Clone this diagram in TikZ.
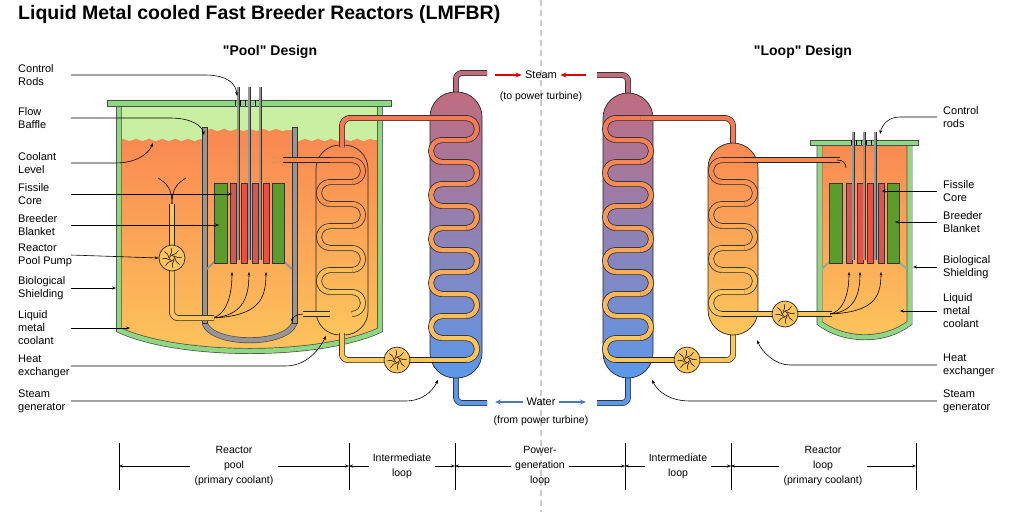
\documentclass[tikz,border=0pt]{standalone}
\usepackage{fontspec}
\setmainfont{Liberation Sans}[Ligatures=TeXOff]
\usetikzlibrary{arrows.meta,decorations.pathmorphing}

\definecolor{hotorange}{RGB}{249,138,82}
\definecolor{warmyellow}{RGB}{253,198,92}
\definecolor{airgreen}{RGB}{200,240,160}
\definecolor{wallgreen}{RGB}{143,216,131}
\definecolor{blanket}{RGB}{92,156,42}
\definecolor{fuelred}{RGB}{226,82,72}
\definecolor{bafflegray}{RGB}{150,150,150}
\definecolor{steamtop}{RGB}{192,108,128}
\definecolor{waterblue}{RGB}{92,152,234}
\definecolor{pipered}{RGB}{243,122,84}

\tikzset{
  pipe/.style={line width=0.7pt, draw=black!85, double distance=4.5pt, double=#1},
  wall/.style={line width=0.7pt, draw=black!70, double distance=4.5pt, double=#1},
  lead/.style={-{Stealth[length=4pt,width=3pt]}, line width=0.6pt},
  flow/.style={-{Stealth[length=3.5pt,width=2.5pt]}, line width=0.6pt},
  lab/.style={anchor=west, align=left, font=\fontsize{11}{13}\selectfont, inner sep=0pt},
  pump/.style={circle, draw=black!85, fill=warmyellow, minimum size=26pt, inner sep=0pt, line width=0.7pt},
  rod/.style={draw=black!80, fill=fuelred, line width=0.5pt},
  blank/.style={draw=black!80, fill=blanket, line width=0.5pt},
  crod/.style={line width=0.7pt, draw=black!80, double distance=1.6pt, double=bafflegray},
}

% serpentine coil: xL, xR, top y, turns, first side (0 right, 1 left), top colour, bottom colour
\newcommand{\coil}[7]{%
  \foreach \i in {1,...,#4}{%
    \pgfmathsetmacro{\ya}{#3+22*(\i-1)}%
    \pgfmathtruncatemacro{\p}{100*(\i-1)/(#4-1)}%
    \pgfmathtruncatemacro{\s}{mod(\i+#5,2)}%
    \ifnum\s=1
      \draw[pipe={#7!\p!#6}] (#1,\ya) -- (#2,\ya) arc[start angle=-90,end angle=90,radius=11];
    \else
      \draw[pipe={#7!\p!#6}] (#2,\ya) -- (#1,\ya) arc[start angle=270,end angle=90,radius=11];
    \fi}}

% pump with curved blades
\newcommand{\pumpwheel}[2]{%
  \node[pump] (#1) at (#2) {};
  \foreach \a in {0,45,...,315}
    \draw[line width=0.5pt] ([shift={(\a:3)}]#1.center) to[bend right=30] ([shift={(\a+40:10)}]#1.center);
  \draw[line width=0.5pt] (#1.center) circle (2.5);}

\begin{document}
\begin{tikzpicture}[x=1pt,y=-1pt]
\useasboundingbox (0,0) rectangle (1011,512);

\node[anchor=west, font=\fontsize{19.5}{22}\bfseries\selectfont, inner sep=0pt] (title) at (18,14) {Liquid Metal cooled Fast Breeder Reactors (LMFBR)};
\draw[dashed, line width=1.5pt, black!20, dash pattern=on 6pt off 4pt] (541,0) -- (541,512);
\node[font=\fontsize{14}{16}\bfseries\selectfont] (pooltitle) at (270,52) {"Pool" Design};
\node[font=\fontsize{14}{16}\bfseries\selectfont] (looptitle) at (803,52) {"Loop" Design};

% ---------- pool vessel
\fill[airgreen] (119,106) -- (119,330) .. controls (180,358) and (320,358) .. (380,330) -- (380,106) -- cycle;
\shade[top color=hotorange, bottom color=warmyellow]
  (119,140) decorate[decoration={snake,amplitude=1.2pt,segment length=13pt}] {-- (380,140)}
  -- (380,330) .. controls (320,358) and (180,358) .. (119,330) -- cycle;
\fill[hotorange] (207,130) decorate[decoration={snake,amplitude=1.2pt,segment length=13pt}] {-- (292,130)} -- (292,142) -- (207,142) -- cycle;
\draw[wall=wallgreen] (119,106) -- (119,330) .. controls (180,358) and (320,358) .. (380,330) -- (380,106);
\draw[draw=black!70, fill=wallgreen, line width=0.6pt] (107,100) rectangle (391,106);
\foreach \x in {235,240,...,263} \draw[line width=0.4pt] (\x,100) -- (\x,106);

% baffle
\draw[wall=bafflegray] (204.5,323) .. controls (212,346) and (287,346) .. (294.5,323);
\draw[draw=black!80, fill=bafflegray, line width=0.5pt] (202,127) rectangle (207,323);
\draw[draw=black!80, fill=bafflegray, line width=0.5pt] (292,127) rectangle (297,323);
\draw[line width=2pt, bafflegray] (207,269) -- (214,262) (292,269) -- (284,262);

% core
\draw[blank] (214,183) rectangle (227,263);
\draw[blank] (272,183) rectangle (284,263);
\foreach \x in {230,241,252,263} \draw[rod] (\x,183) rectangle (\x+6,263);
\foreach \x in {238,249,260} \draw[crod] (\x,87) -- (\x,260);
\foreach \x in {232,249,266} \draw[flow] (212,318) .. controls (\x-8,316) and (\x,300) .. (\x,272);

% primary pool circuit
\draw[line width=0.6pt] (158,178) .. controls (168,184) and (172,190) .. (172,204);
\draw[line width=0.6pt] (186,178) .. controls (176,184) and (172,190) .. (172,204);
\draw[pipe=warmyellow] (172,204) -- (172,246);
\draw[pipe=warmyellow, rounded corners=6] (172,270) |- (214,318);
\pumpwheel{poolpump}{172,258}

% pool heat exchanger
\shade[top color=hotorange, bottom color=warmyellow, draw=black!85, line width=0.7pt, rounded corners=24] (316,145) rectangle (368,335);
\draw[pipe=hotorange] (283,160) -- (330,160);
\coil{330}{352}{160}{7}{0}{hotorange}{warmyellow}
\draw[pipe=warmyellow] (330,314) -- (303,314);
\draw[flow] (303,314) .. controls (296,314) and (292,318) .. (292,322);

% pool steam generator
\draw[pipe=steamtop, rounded corners=6] (456,95) |- (487,73);
\draw[pipe=waterblue, rounded corners=6] (456,376) |- (487,403);
\shade[top color=steamtop, bottom color=waterblue, draw=black!85, line width=0.7pt, rounded corners=25] (430,92) rectangle (482,378);
\draw[pipe=pipered, rounded corners=8] (342,147) |- (442,118);
\coil{442}{466}{118}{11}{0}{pipered}{warmyellow}
\draw[pipe=warmyellow] (466,360) -- (410,360);
\draw[pipe=warmyellow, rounded corners=6] (384,360) -| (342,333);
\pumpwheel{poolhxpump}{397,360}

% ---------- loop side steam generator
\draw[pipe=steamtop, rounded corners=6] (628,95) |- (597,75);
\draw[pipe=waterblue, rounded corners=6] (628,376) |- (597,403);
\shade[top color=steamtop, bottom color=waterblue, draw=black!85, line width=0.7pt, rounded corners=25] (603,93) rectangle (653,378);
\draw[pipe=pipered, rounded corners=8] (733,145) |- (640,118);
\coil{616}{640}{118}{11}{1}{pipered}{warmyellow}
\draw[pipe=warmyellow] (616,360) -- (674,360);
\draw[pipe=warmyellow, rounded corners=6] (700,360) -| (733,333);
\pumpwheel{loophxpump}{687,360}

% loop heat exchanger
\shade[top color=hotorange, bottom color=warmyellow, draw=black!85, line width=0.7pt, rounded corners=25] (708,143) rectangle (758,335);
\coil{722}{744}{160}{7}{1}{hotorange}{warmyellow}

% loop reactor vessel
\shade[top color=hotorange, bottom color=warmyellow] (819,145) -- (819,323) .. controls (845,342) and (885,342) .. (910,323) -- (910,145) -- cycle;
\draw[wall=wallgreen] (819.5,145) -- (819.5,323) .. controls (845,342) and (885,342) .. (909.5,323) -- (909.5,145);
\draw[draw=black!70, fill=wallgreen, line width=0.6pt] (810,140) rectangle (918,145);
\foreach \x in {851,856,...,877} \draw[line width=0.4pt] (\x,140) -- (\x,145);
\draw[line width=2pt, bafflegray!60!wallgreen] (822,269) -- (829,262) (907,269) -- (899,262);
\draw[blank] (829,183) rectangle (842,263);
\draw[blank] (887,183) rectangle (899,263);
\foreach \x in {846,857,867,878} \draw[rod] (\x,183) rectangle (\x+6,263);
\foreach \x in {853,864,875} \draw[crod] (\x,132) -- (\x,260);
\draw[pipe=hotorange] (840,160) -- (744,160);
\draw[line width=0.6pt] (837,160) .. controls (843,160) and (846,163) .. (846,168);
\draw[pipe=warmyellow] (722,314) -- (772,314);
\draw[pipe=warmyellow] (798,314) -- (832,314);
\pumpwheel{looppump}{785,314}
\foreach \x in {849,860,881} \draw[flow] (830,314) .. controls (\x-8,312) and (\x,298) .. (\x,272);

% steam / water
\node[font=\fontsize{11}{13}\selectfont] (steam) at (541,75) {Steam};
\node[font=\fontsize{10.5}{12}\selectfont] (steamto) at (541,97) {(to power turbine)};
\node[font=\fontsize{11}{13}\selectfont] (water) at (541,402) {Water};
\node[font=\fontsize{10.5}{12}\selectfont] (waterfrom) at (541,421) {(from power turbine)};
\draw[-{Stealth[length=6pt,width=5pt]}, line width=1.5pt, red!85!black] (495,75) -- (steam.west);
\draw[-{Stealth[length=6pt,width=5pt]}, line width=1.5pt, red!85!black] (586,75) -- (steam.east);
\draw[{Stealth[length=6pt,width=5pt]}-, line width=1.5pt, waterblue!80!black] (495,402) -- (water.west);
\draw[{Stealth[length=6pt,width=5pt]}-, line width=1.5pt, waterblue!80!black] (586,402) -- (water.east);

% ---------- left labels
\node[lab] (lcr) at (18,75) {Control\\Rods};
\node[lab] (lfb) at (18,118) {Flow\\Baffle};
\node[lab] (lcl) at (18,163) {Coolant\\Level};
\node[lab] (lfc) at (18,194) {Fissile\\Core};
\node[lab] (lbb) at (18,225) {Breeder\\Blanket};
\node[lab] (lpp) at (18,255) {Reactor\\Pool Pump};
\node[lab] (lbs) at (18,288) {Biological\\Shielding};
\node[lab] (llm) at (18,328) {Liquid\\metal\\coolant};
\node[lab] (lhx) at (18,366) {Heat\\exchanger};
\node[lab] (lsg) at (18,401) {Steam\\generator};
\draw[lead] ([xshift=53pt]lcr.west) -- (205,75) .. controls (228,75) and (236,84) .. (237,96);
\draw[lead] ([xshift=53pt]lfb.west) -- (170,118) .. controls (192,118) and (202,126) .. (204,135);
\draw[lead] ([xshift=53pt]lcl.west) -- (115,163) .. controls (135,163) and (148,155) .. (153,143);
\draw[lead] ([xshift=53pt]lfc.west) -- (232,194);
\draw[lead] ([xshift=53pt]lbb.west) -- (219,225);
\draw[lead] ([xshift=53pt]lpp.west) -- (poolpump.west);
\draw[lead] ([xshift=53pt]lbs.west) -- (116,288);
\draw[lead] ([xshift=53pt]llm.west) -- (130,328);
\draw[lead] ([xshift=53pt]lhx.west) -- (285,366) .. controls (305,366) and (318,352) .. (326,336);
\draw[lead] ([xshift=53pt]lsg.west) -- (405,401) .. controls (422,401) and (432,392) .. (438,380);

% ---------- right labels
\node[lab] (rcr) at (943,117) {Control\\rods};
\node[lab] (rfc) at (943,191) {Fissile\\Core};
\node[lab] (rbb) at (943,222) {Breeder\\Blanket};
\node[lab] (rbs) at (943,267) {Biological\\Shielding};
\node[lab] (rlm) at (943,311) {Liquid\\metal\\coolant};
\node[lab] (rhx) at (943,365) {Heat\\exchanger};
\node[lab] (rsg) at (943,401) {Steam\\generator};
\draw[lead] ([xshift=-6pt]rcr.west) -- (900,117) .. controls (888,117) and (882,125) .. (880,134);
\draw[lead] ([xshift=-6pt]rfc.west) -- (882,191);
\draw[lead] ([xshift=-6pt]rbb.west) -- (895,222);
\draw[lead] ([xshift=-6pt]rbs.west) -- (913,267);
\draw[lead] ([xshift=-6pt]rlm.west) -- (900,311);
\draw[lead] ([xshift=-6pt]rhx.west) -- (790,365) .. controls (775,365) and (762,352) .. (757,340);
\draw[lead] ([xshift=-6pt]rsg.west) -- (690,401) .. controls (670,401) and (658,392) .. (652,380);

% ---------- bottom scale
\foreach \x [count=\k] in {119,349,455,625,731,916}
  \draw[line width=0.7pt] (\x,443) coordinate (t\k) -- (\x,490);
\begin{scope}[every node/.style={align=center, font=\fontsize{10.5}{15}\selectfont, inner xsep=4pt, inner ysep=1pt}]
  \node (zpool) at (234,466) {Reactor\\pool\\(primary coolant)};
  \node (zint1) at (402,466) {Intermediate\\loop};
  \node (zpow) at (540,466) {Power-\\generation\\loop};
  \node (zint2) at (678,466) {Intermediate\\loop};
  \node (zloop) at (823,466) {Reactor\\loop\\(primary coolant)};
\end{scope}
\foreach \a/\n/\b in {1/zpool/2, 2/zint1/3, 3/zpow/4, 4/zint2/5, 5/zloop/6}{
  \draw[lead] (\n.west) -- (t\a |- \n.west);
  \draw[lead] (\n.east) -- (t\b |- \n.east);
}
\end{tikzpicture}
\end{document}
